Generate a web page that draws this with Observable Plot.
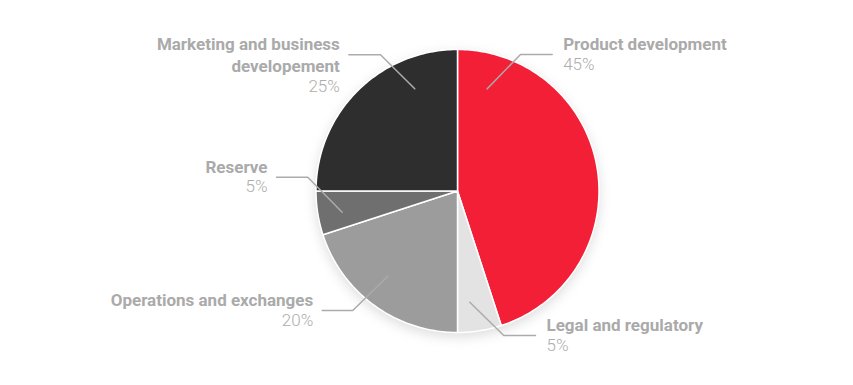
<!DOCTYPE html>
<html><head><meta charset="utf-8">
<script src="https://cdn.jsdelivr.net/npm/d3@7"></script>
<script src="https://cdn.jsdelivr.net/npm/@observablehq/plot@0.6"></script>
<style>
html,body{margin:0;padding:0;background:#fff;}
#chart{width:853px;height:385px;}
</style></head><body><div id="chart"></div>
<script>
// ---- data ----
const categories = ["Product development", "Legal and regulatory", "Operations and exchanges", "Reserve", "Marketing and business\ndevelopement"];
const values = [45, 5, 20, 5, 25];
const percentLabels = ["45%", "5%", "20%", "5%", "25%"];
const colors = ["#f31f36", "#e3e3e3", "#9c9c9c", "#6f6f6f", "#2e2e2f"];

// ---- label leader layout (in pie-radius units) ----
const leaderAnchor = [[0.21, 0.722], [0.087, -0.786], [-0.493, -0.602], [-0.815, -0.150], [-0.302, 0.722]];
const leaderElbow  = [[0.445, 0.965], [0.327, -1.021], [-0.740, -0.845], [-1.058, 0.0975], [-0.544, 0.963]];
const leaderEnd    = [[0.669, 0.965], [0.551, -1.021], [-0.956, -0.845], [-1.279, 0.0975], [-0.768, 0.963]];

const W = 853, H = 385, CX = 457, CY = 190.5, R = 141.5;
const FS = 17, LINE_H = 22;

// slice polygons from cumulative values (clockwise from 12 o'clock)
const total = d3.sum(values);
const slicePts = [];
let acc = 0;
values.forEach((v, i) => {
  const a0 = acc / total * 2 * Math.PI, a1 = (acc + v) / total * 2 * Math.PI; acc += v;
  const n = Math.max(2, Math.ceil((a1 - a0) / (Math.PI / 180)));
  slicePts.push({cat: categories[i], x: 0, y: 0});
  for (let k = 0; k <= n; k++) {
    const a = a0 + (a1 - a0) * k / n;
    slicePts.push({cat: categories[i], x: Math.sin(a), y: Math.cos(a)});
  }
  slicePts.push({cat: categories[i], x: 0, y: 0});
});

const leaders = [];
categories.forEach((c, i) => {
  [leaderAnchor[i], leaderElbow[i], leaderEnd[i]].forEach(p => leaders.push({cat: c, x: p[0], y: p[1]}));
});

const labels = categories.map((c, i) => {
  const lines = c.split("\n").length;
  return {
    name: c, pct: percentLabels[i],
    x: leaderEnd[i][0], y: leaderEnd[i][1],
    py: leaderEnd[i][1] - (LINE_H * (lines - 1)) / R,
    right: leaderEnd[i][0] > 0
  };
});
const rightL = labels.filter(d => d.right), leftL = labels.filter(d => !d.right);

const font = "Roboto, 'Noto Sans', sans-serif";
const nameOpts = {fontFamily: font, fontSize: FS, fontWeight: 700, fill: "#aaaaaa", lineAnchor: "top", dy: -20, lineHeight: LINE_H / FS};
const pctOpts = {fontFamily: font, fontSize: FS, fontWeight: 300, fill: "#adadad", lineAnchor: "top", dy: 3};

const chart = Plot.plot({
  width: W, height: H,
  marginTop: 0, marginRight: 0, marginBottom: 0, marginLeft: 0,
  x: {domain: [-CX / R, (W - CX) / R], range: [0, W], axis: null},
  y: {domain: [-(H - CY) / R, CY / R], range: [H, 0], axis: null},
  color: {domain: categories, range: colors},
  marks: [
    Plot.line(slicePts, {x: "x", y: "y", z: "cat", fill: "cat", stroke: "#ffffff", strokeWidth: 1.5}),
    Plot.line(leaders, {x: "x", y: "y", z: "cat", stroke: "#ababab", strokeWidth: 1.5}),
    Plot.text(rightL, {x: "x", y: "y", text: "name", textAnchor: "start", dx: 11, ...nameOpts}),
    Plot.text(leftL, {x: "x", y: "y", text: "name", textAnchor: "end", dx: -9, ...nameOpts}),
    Plot.text(rightL, {x: "x", y: "py", text: "pct", textAnchor: "start", dx: 11, ...pctOpts}),
    Plot.text(leftL, {x: "x", y: "py", text: "pct", textAnchor: "end", dx: -9, ...pctOpts})
  ]
});
const g = chart.querySelector('g[aria-label="line"]');
if (g) g.style.filter = "drop-shadow(0px 4px 6px rgba(0,0,0,0.13))";
document.getElementById("chart").appendChild(chart);
</script>
</body></html>
